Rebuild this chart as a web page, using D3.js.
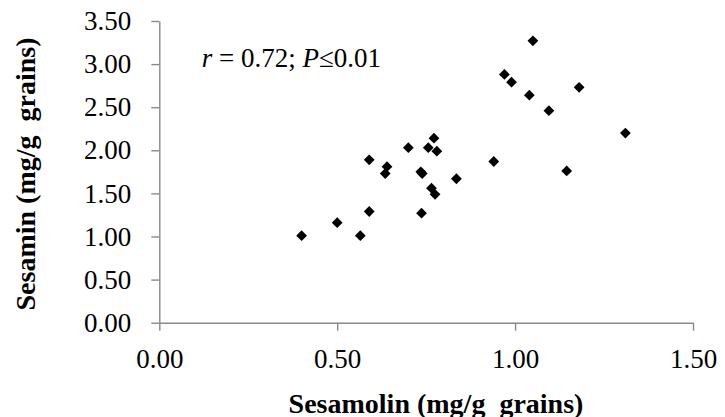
<!DOCTYPE html>
<html>
<head>
<meta charset="utf-8">
<script src="https://cdn.jsdelivr.net/npm/d3@7"></script>
<style>
  html, body { margin: 0; padding: 0; background: #fff; }
  svg { display: block; }
  text { font-family: "Times New Roman", "Liberation Serif", serif; fill: #000; }
</style>
</head>
<body>
<svg id="chart" width="725" height="417"></svg>
<script>
// Data
const sesamolin = [0.40, 0.50, 0.565, 0.59, 0.59, 0.635, 0.64, 0.70, 0.735, 0.739, 0.737, 0.756, 0.772, 0.78, 0.765, 0.775, 0.835, 0.94, 0.97, 0.99, 1.04, 1.05, 1.095, 1.145, 1.18, 1.31];
const sesamin   = [1.01, 1.16, 1.01, 1.29, 1.89, 1.73, 1.81, 2.03, 1.75, 1.73, 1.27, 2.03, 2.14, 1.99, 1.56, 1.49, 1.67, 1.87, 2.88, 2.79, 2.64, 3.27, 2.46, 1.76, 2.73, 2.20];
const xTicks = [0, 0.5, 1.0, 1.5];
const yTicks = [0, 0.5, 1.0, 1.5, 2.0, 2.5, 3.0, 3.5];
const xTitle = "Sesamolin (mg/g  grains)";
const yTitle = "Sesamin (mg/g  grains)";

const svg = d3.select("#chart");
const x = d3.scaleLinear().domain([0, 1.5]).range([159.3, 693]);
const y = d3.scaleLinear().domain([0, 3.5]).range([322.7, 21]);
const axisColor = "#8a8a8a";
const fmt = d3.format(".2f");

const gx = svg.append("g").attr("transform", `translate(0,${y(0)})`)
  .call(d3.axisBottom(x).tickValues(xTicks).tickFormat(fmt).tickSize(8).tickSizeOuter(0).tickPadding(18));
const gy = svg.append("g").attr("transform", `translate(${x(0)},0)`)
  .call(d3.axisLeft(y).tickValues(yTicks).tickFormat(fmt).tickSize(8).tickSizeOuter(0).tickPadding(20));

[gx, gy].forEach(g => {
  g.selectAll("path.domain").attr("stroke", axisColor).attr("stroke-width", 1.4);
  g.selectAll(".tick line").attr("stroke", axisColor).attr("stroke-width", 1.4);
  g.selectAll(".tick text").attr("font-family", '"Times New Roman", "Liberation Serif", serif')
    .attr("font-size", 27).attr("fill", "#000");
});

// points (diamonds)
const pts = sesamolin.map((v, i) => [v, sesamin[i]]);
const sym = d3.symbol().type(d3.symbolSquare).size(58);
svg.append("g").selectAll("path").data(pts).join("path")
  .attr("d", sym)
  .attr("transform", d => `translate(${x(d[0])},${y(d[1])}) rotate(45)`)
  .attr("fill", "#000");

// annotation
const ann = svg.append("text").attr("x", 201.7).attr("y", 67).attr("font-size", 27)
  .style("white-space", "pre");
ann.append("tspan").attr("font-style", "italic").text("r");
ann.append("tspan").text(" = 0.72; ");
ann.append("tspan").attr("font-style", "italic").text("P");
ann.append("tspan").text("≤0.01");

// axis titles
svg.append("text").attr("x", 436).attr("y", 412.5).attr("text-anchor", "middle")
  .attr("font-size", 28).attr("font-weight", "bold").style("white-space", "pre").text(xTitle);
svg.append("text").attr("transform", "translate(35,174) rotate(-90)").attr("text-anchor", "middle")
  .attr("font-size", 28).attr("font-weight", "bold").style("white-space", "pre").text(yTitle);
</script>
</body>
</html>
